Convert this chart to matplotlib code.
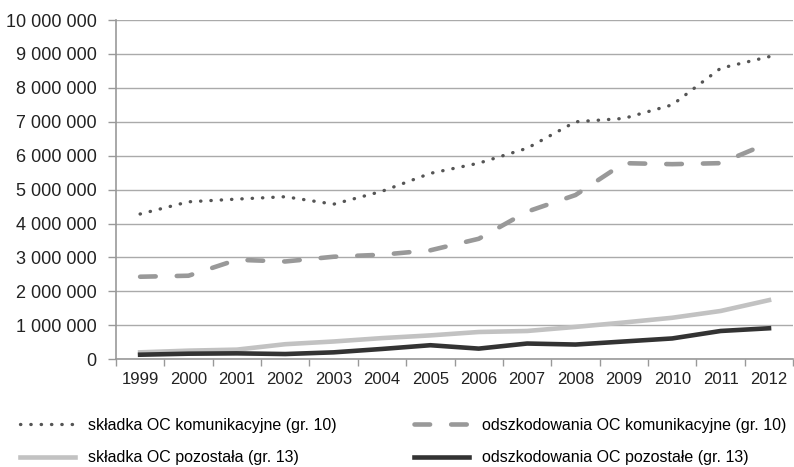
import matplotlib.pyplot as plt
from matplotlib.ticker import FuncFormatter, MultipleLocator

plt.rcParams['font.family'] = ['Liberation Sans', 'DejaVu Sans']

years = ['1999', '2000', '2001', '2002', '2003', '2004', '2005',
         '2006', '2007', '2008', '2009', '2010', '2011', '2012']

# values in PLN thousands
skladka_kom = [4280000, 4640000, 4720000, 4790000, 4570000, 4950000, 5480000,
               5780000, 6220000, 7000000, 7100000, 7500000, 8580000, 8920000]
odszk_kom = [2430000, 2460000, 2930000, 2880000, 3020000, 3080000, 3210000,
             3550000, 4350000, 4840000, 5780000, 5750000, 5780000, 6380000]
skladka_poz = [200000, 250000, 280000, 440000, 520000, 620000, 700000,
               800000, 830000, 950000, 1080000, 1220000, 1420000, 1740000]
odszk_poz = [130000, 160000, 170000, 150000, 200000, 300000, 410000,
             310000, 460000, 430000, 520000, 610000, 830000, 910000]

fig = plt.figure(figsize=(7.94, 4.67), dpi=100)
ax = fig.add_axes([0.146, 0.231, 0.853, 0.726])

x = range(len(years))
l1, = ax.plot(x, skladka_kom, color='#555555', lw=2.4, linestyle=(0, (0.1, 3.0)),
              dash_capstyle='round', label='składka OC komunikacyjne (gr. 10)')
l2, = ax.plot(x, odszk_kom, color='#999999', lw=3.3, linestyle=(0, (3.4, 4.6)),
              dash_capstyle='round', label='odszkodowania OC komunikacyjne (gr. 10)')
l3, = ax.plot(x, skladka_poz, color='#c2c2c2', lw=3.3,
              label='składka OC pozostała (gr. 13)')
l4, = ax.plot(x, odszk_poz, color='#333333', lw=3.3,
              label='odszkodowania OC pozostałe (gr. 13)')

ax.set_xlim(-0.5, len(years) - 0.5)
ax.set_ylim(0, 10000000)
ax.yaxis.set_major_locator(MultipleLocator(1000000))
ax.yaxis.set_major_formatter(FuncFormatter(lambda v, p: f'{int(v):,}'.replace(',', ' ')))
ax.set_xticks(x)
ax.set_xticklabels(years)
ax.set_xticks([i - 0.5 for i in range(len(years) + 1)], minor=True)
ax.tick_params(axis='x', which='major', length=0, pad=9, labelsize=12, colors='#222222')
ax.tick_params(axis='x', which='minor', length=5, color='#999999', width=1)
ax.tick_params(axis='y', length=6, color='#999999', width=1, pad=8, labelsize=13,
               colors='#222222')

ax.grid(axis='y', color='#aaaaaa', lw=1)
ax.set_axisbelow(True)
for s in ['top', 'right']:
    ax.spines[s].set_visible(False)
for s in ['left', 'bottom']:
    ax.spines[s].set_color('#999999')
    ax.spines[s].set_linewidth(1.2)

# two legend columns placed separately
leg_kw = dict(loc='center left', frameon=False, fontsize=11.5, handlelength=3.45,
              handletextpad=0.8, labelspacing=1.1, borderaxespad=0, borderpad=0)
fig.legend(handles=[l1, l3], bbox_to_anchor=(0.025, 0.055), **leg_kw)
fig.legend(handles=[l2, l4], bbox_to_anchor=(0.521, 0.055), **leg_kw)

fig.savefig('out.png', dpi=100)
